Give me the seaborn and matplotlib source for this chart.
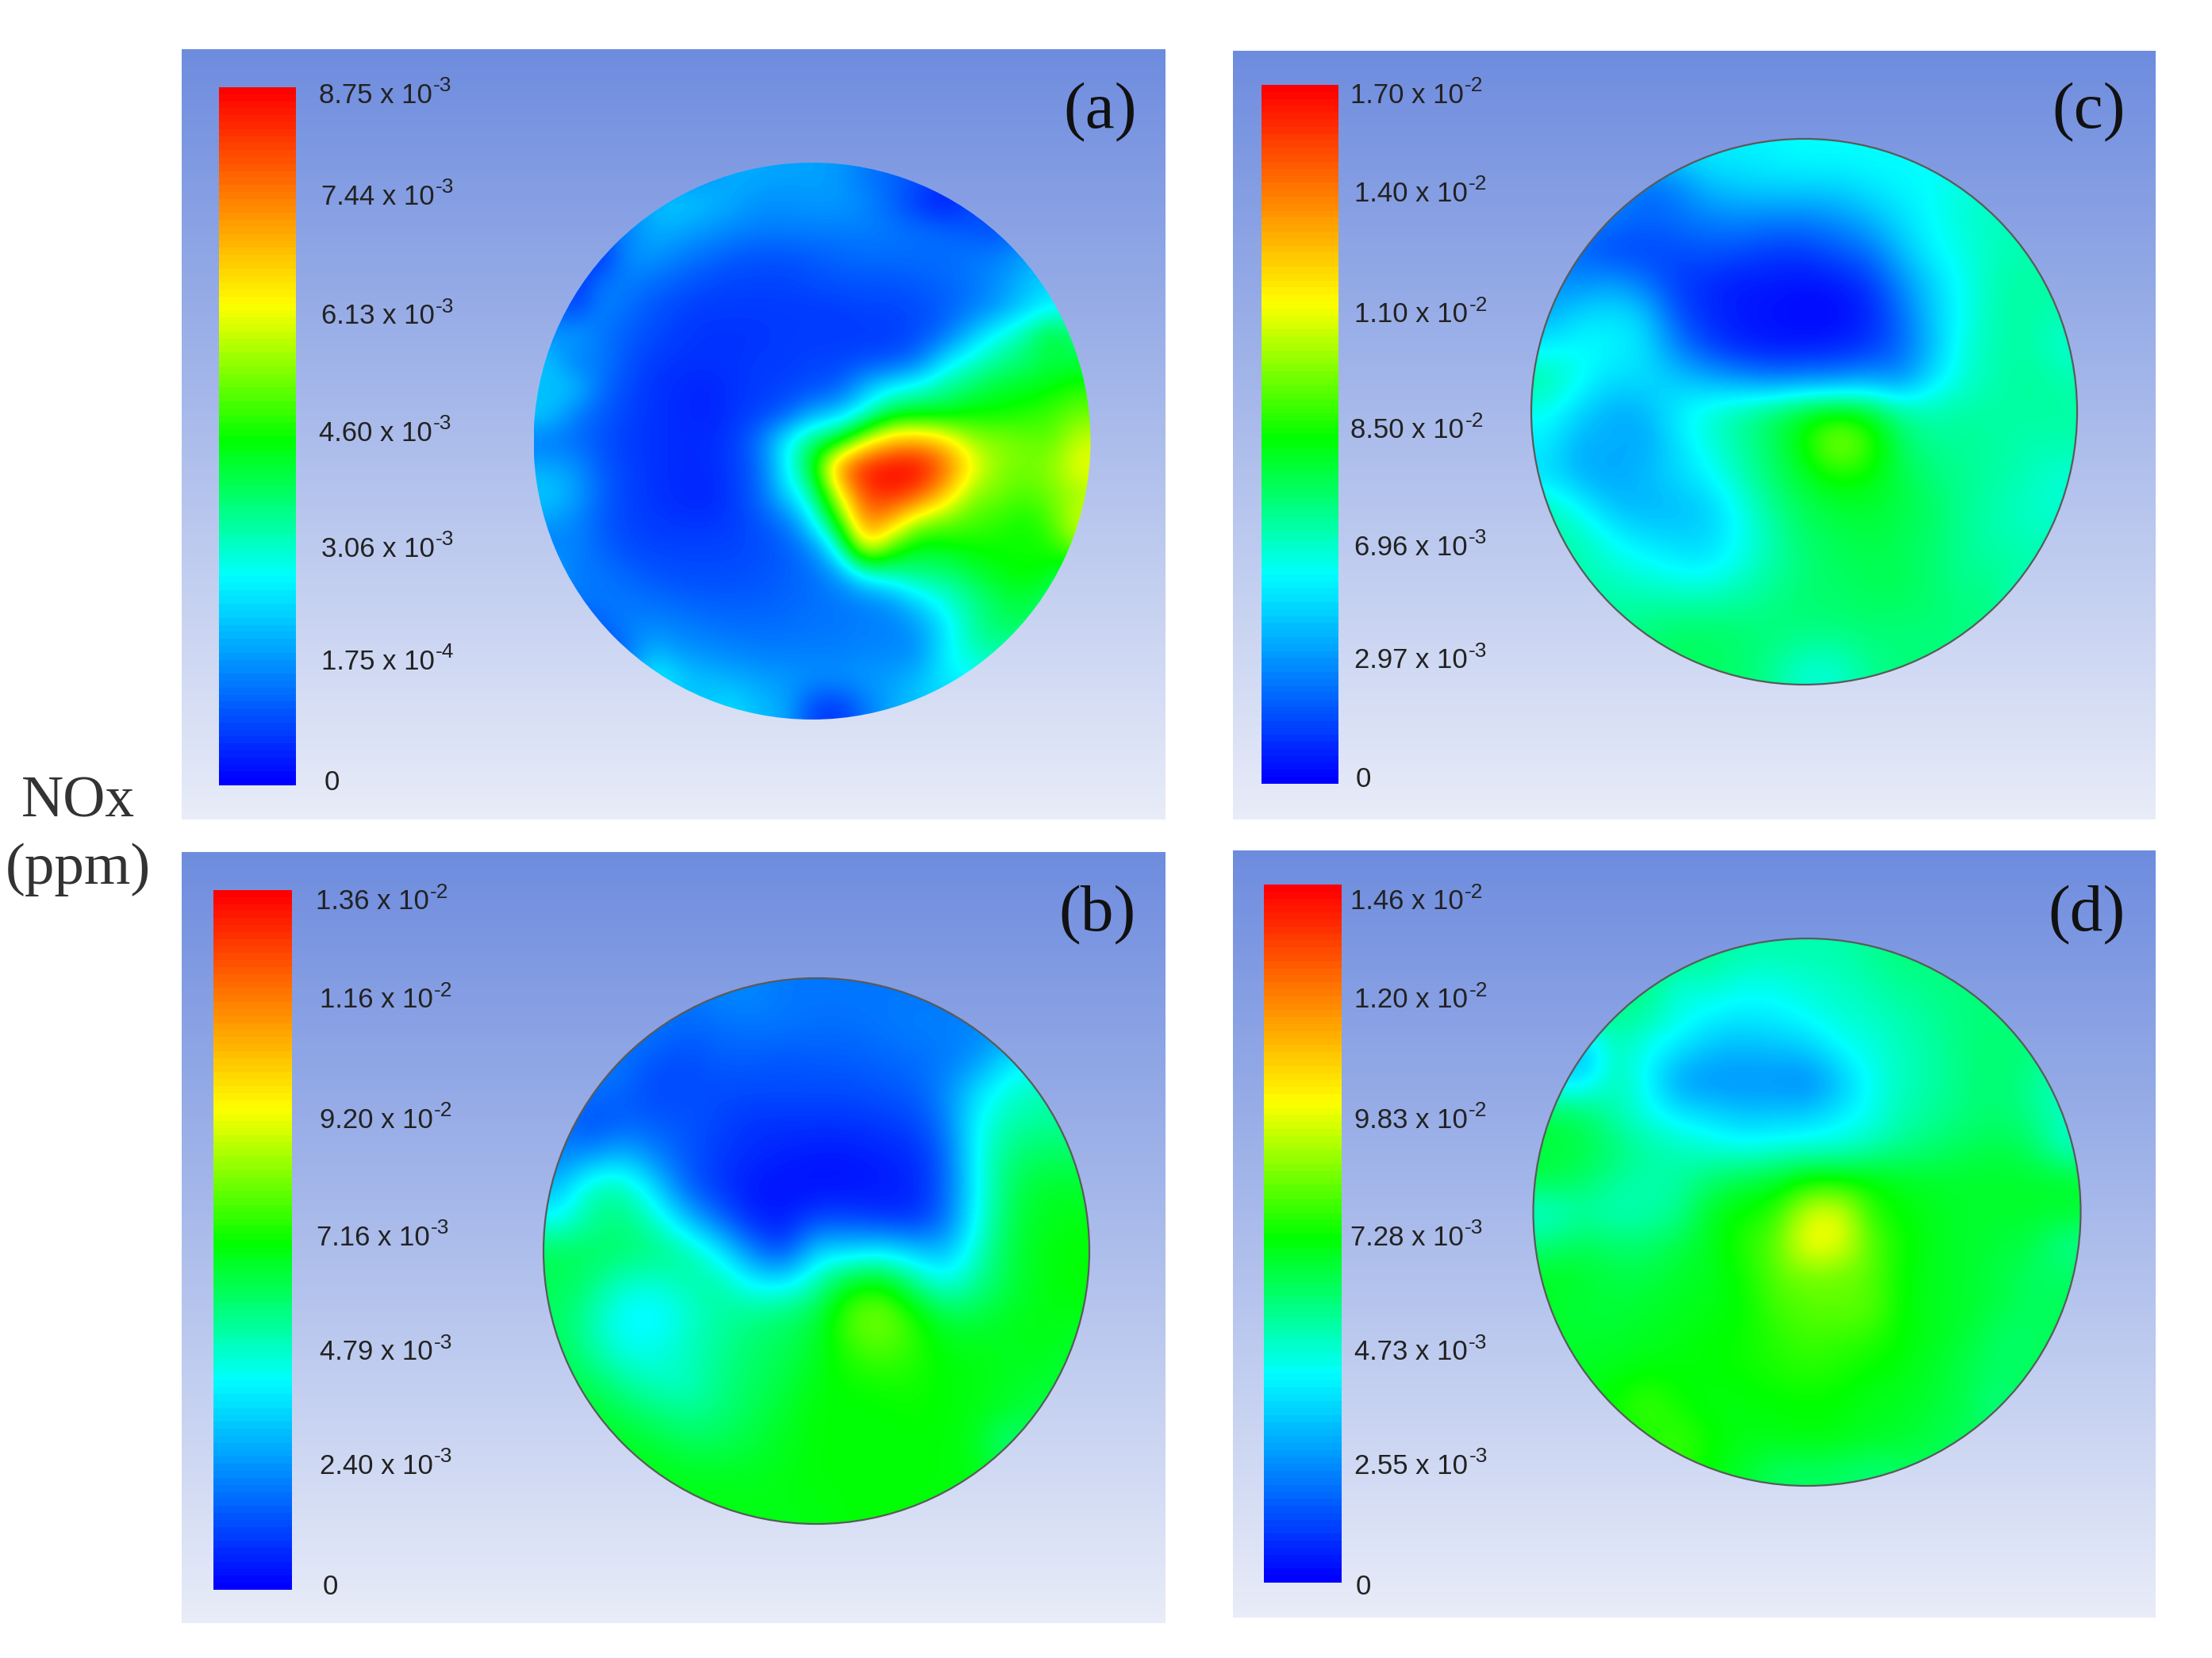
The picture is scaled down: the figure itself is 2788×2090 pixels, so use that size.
from matplotlib import pyplot as plt
from matplotlib.colors import LinearSegmentedColormap
from matplotlib.patches import Circle
import numpy as np
import seaborn as sns

field_a = [
    [15, 15, 15, 15, 15, 15, 18, 20, 20, 19, 19, 18, 14, 12, 10, 8, 10, 12, 14, 15, 15],
    [15, 15, 15, 15, 22, 24, 22, 20, 17, 17, 18, 18, 16, 12, 6, 2, 8, 12, 14, 15, 15],
    [15, 15, 12, 15, 21, 20, 18, 16, 15, 15, 15, 15, 15, 14, 13, 12, 10, 8, 14, 15, 15],
    [15, 8, 4, 17, 18, 15, 13, 11, 10, 10, 11, 12, 13, 13, 13, 13, 14, 15, 18, 22, 20],
    [15, 4, 14, 15, 13, 11, 9, 8, 8, 8, 9, 10, 10, 10, 11, 12, 14, 17, 22, 25, 25],
    [13, 7, 16, 13, 10, 8, 7, 7, 7, 7, 7, 7, 8, 8, 9, 11, 14, 18, 24, 29, 30],
    [16, 20, 14, 11, 9, 7, 6, 6, 6, 7, 7, 7, 7, 7, 9, 13, 23, 31, 37, 47, 40],
    [24, 14, 15, 10, 7, 6, 6, 6, 7, 7, 8, 8, 9, 10, 14, 27, 33, 38, 41, 44, 44],
    [22, 24, 13, 9, 6, 5, 4, 6, 7, 8, 9, 11, 22, 29, 33, 38, 42, 46, 47, 49, 52],
    [24, 15, 11, 8, 6, 5, 4, 6, 8, 11, 20, 24, 33, 46, 47, 47, 50, 50, 52, 54, 58],
    [14, 13, 10, 7, 6, 5, 5, 7, 14, 29, 42, 47, 66, 78, 80, 74, 62, 60, 58, 56, 65],
    [20, 18, 11, 8, 6, 5, 5, 7, 12, 29, 46, 85, 98, 100, 100, 88, 70, 60, 58, 60, 68],
    [24, 20, 12, 8, 6, 5, 4, 7, 12, 25, 36, 68, 92, 96, 90, 76, 60, 58, 55, 58, 62],
    [19, 16, 11, 8, 7, 6, 6, 7, 10, 14, 28, 52, 86, 78, 62, 58, 55, 53, 50, 55, 66],
    [14, 16, 12, 9, 8, 8, 8, 8, 9, 11, 16, 33, 72, 55, 46, 48, 50, 50, 50, 51, 60],
    [22, 14, 14, 12, 10, 9, 9, 9, 10, 11, 13, 18, 32, 36, 40, 40, 44, 48, 50, 48, 40],
    [15, 15, 14, 14, 13, 12, 11, 11, 11, 12, 13, 14, 15, 18, 26, 32, 38, 43, 45, 42, 30],
    [15, 6, 12, 15, 16, 15, 14, 13, 13, 13, 14, 14, 15, 15, 18, 27, 37, 41, 44, 35, 20],
    [15, 15, 4, 14, 22, 18, 17, 16, 15, 15, 15, 15, 16, 16, 17, 28, 34, 38, 30, 20, 15],
    [15, 15, 15, 15, 32, 25, 22, 21, 19, 18, 17, 17, 18, 19, 22, 28, 30, 28, 20, 15, 15],
    [15, 15, 15, 15, 15, 22, 24, 26, 22, 20, 8, 6, 14, 20, 24, 25, 20, 15, 15, 15, 15],
]
field_b = [
    [14, 14, 14, 14, 14, 16, 16, 14, 14, 14, 14, 14, 14, 14, 14, 14, 14],
    [14, 14, 14, 14, 12, 13, 14, 14, 13, 13, 14, 15, 15, 16, 16, 16, 16],
    [14, 14, 14, 10, 9, 11, 11, 10, 11, 11, 12, 13, 14, 17, 26, 30, 30],
    [14, 14, 12, 8, 9, 9, 9, 9, 9, 9, 10, 11, 16, 26, 33, 35, 35],
    [14, 8, 11, 11, 10, 8, 6, 6, 6, 6, 7, 8, 14, 30, 36, 38, 38],
    [15, 17, 22, 15, 10, 7, 5, 4, 3, 3, 4, 5, 11, 31, 40, 42, 42],
    [22, 36, 36, 25, 11, 6, 3, 2, 2, 2, 3, 4, 11, 30, 42, 46, 46],
    [30, 38, 40, 34, 22, 12, 4, 3, 8, 8, 6, 5, 12, 31, 43, 47, 48],
    [43, 42, 41, 40, 37, 28, 15, 7, 26, 25, 28, 24, 21, 34, 44, 48, 49],
    [43, 40, 34, 33, 36, 37, 29, 28, 36, 48, 50, 40, 31, 38, 44, 48, 49],
    [42, 36, 29, 28, 33, 37, 39, 41, 44, 56, 60, 52, 44, 44, 47, 48, 48],
    [43, 37, 31, 31, 35, 38, 41, 43, 46, 53, 56, 53, 48, 48, 47, 48, 46],
    [44, 42, 37, 34, 34, 39, 42, 44, 48, 50, 51, 51, 49, 48, 47, 46, 45],
    [46, 46, 43, 40, 38, 40, 43, 46, 49, 49, 49, 50, 49, 48, 46, 44, 44],
    [47, 47, 47, 45, 43, 43, 45, 47, 49, 49, 49, 49, 49, 47, 38, 44, 44],
    [47, 47, 48, 48, 47, 47, 47, 48, 49, 49, 49, 49, 49, 48, 46, 44, 44],
    [48, 48, 48, 48, 48, 48, 48, 48, 48, 49, 49, 49, 48, 47, 46, 45, 45],
]
field_c = [
    [25, 25, 25, 25, 25, 28, 28, 29, 30, 30, 30, 30, 30, 30, 30, 30, 30],
    [18, 18, 18, 12, 15, 22, 24, 25, 25, 25, 27, 29, 30, 33, 33, 33, 33],
    [15, 15, 14, 12, 13, 15, 16, 15, 15, 17, 21, 26, 30, 33, 35, 35, 35],
    [14, 12, 8, 8, 9, 10, 9, 7, 7, 10, 13, 22, 29, 32, 35, 36, 36],
    [18, 16, 19, 14, 7, 5, 3, 3, 2, 3, 6, 16, 25, 31, 36, 37, 37],
    [20, 26, 27, 25, 10, 5, 3, 2, 1, 1, 4, 12, 24, 31, 36, 37, 35],
    [29, 30, 29, 27, 16, 8, 4, 3, 3, 4, 6, 12, 22, 33, 36, 37, 33],
    [37, 31, 26, 26, 24, 21, 18, 15, 16, 16, 19, 16, 27, 33, 36, 38, 36],
    [31, 25, 20, 21, 28, 33, 37, 42, 47, 50, 47, 38, 36, 37, 37, 37, 37],
    [28, 20, 21, 19, 26, 32, 37, 42, 50, 62, 55, 42, 38, 38, 37, 36, 36],
    [26, 21, 19, 22, 25, 29, 35, 41, 46, 51, 49, 44, 40, 38, 37, 35, 33],
    [36, 30, 23, 21, 22, 24, 31, 38, 43, 45, 46, 44, 42, 38, 36, 34, 33],
    [36, 36, 30, 27, 25, 25, 30, 36, 41, 43, 44, 43, 41, 38, 36, 35, 35],
    [36, 36, 34, 32, 30, 29, 33, 37, 40, 42, 43, 43, 41, 38, 38, 37, 35],
    [36, 36, 37, 37, 37, 37, 38, 39, 41, 41, 42, 42, 41, 39, 40, 28, 35],
    [36, 37, 38, 40, 42, 42, 41, 40, 39, 39, 40, 40, 40, 40, 38, 36, 36],
    [37, 38, 40, 42, 42, 42, 41, 38, 33, 33, 38, 40, 40, 38, 38, 37, 37],
]
field_d = [
    [40, 40, 40, 40, 40, 38, 36, 36, 36, 36, 38, 40, 40, 40, 40, 40, 40],
    [40, 40, 40, 40, 32, 34, 31, 31, 33, 34, 36, 38, 39, 40, 40, 40, 40],
    [40, 40, 38, 36, 32, 28, 27, 28, 30, 33, 34, 36, 38, 40, 40, 40, 40],
    [25, 18, 36, 30, 26, 22, 21, 22, 23, 29, 32, 35, 37, 40, 41, 40, 38],
    [28, 27, 36, 30, 18, 17, 17, 17, 15, 22, 31, 35, 37, 40, 41, 38, 34],
    [44, 43, 36, 32, 28, 26, 23, 24, 24, 28, 31, 36, 38, 40, 41, 39, 34],
    [45, 44, 41, 37, 35, 33, 31, 32, 33, 33, 36, 39, 41, 43, 44, 42, 34],
    [44, 42, 38, 36, 37, 41, 44, 46, 50, 50, 49, 47, 46, 46, 46, 46, 46],
    [33, 37, 35, 36, 38, 47, 50, 52, 66, 68, 52, 49, 47, 46, 46, 46, 46],
    [40, 43, 41, 41, 44, 47, 52, 56, 70, 68, 56, 50, 47, 46, 45, 44, 38],
    [47, 46, 44, 44, 46, 47, 50, 56, 58, 57, 56, 49, 47, 46, 44, 42, 42],
    [46, 45, 45, 46, 47, 48, 49, 54, 56, 57, 56, 49, 47, 46, 44, 42, 43],
    [46, 46, 46, 47, 48, 49, 50, 52, 54, 53, 52, 49, 47, 45, 41, 42, 43],
    [46, 47, 48, 49, 49, 49, 50, 51, 52, 51, 49, 48, 46, 43, 42, 42, 44],
    [47, 47, 50, 55, 50, 48, 48, 49, 49, 49, 47, 47, 45, 44, 38, 44, 44],
    [47, 48, 49, 51, 54, 50, 48, 48, 49, 48, 47, 46, 44, 42, 42, 44, 44],
    [47, 47, 48, 50, 54, 48, 46, 42, 42, 42, 40, 42, 42, 43, 44, 44, 44],
]

labels_a = ['8.75 x 10', '7.44 x 10', '6.13 x 10', '4.60 x 10', '3.06 x 10', '1.75 x 10', '0']
exps_a = ['-3', '-3', '-3', '-3', '-3', '-4', '']
labels_b = ['1.36 x 10', '1.16 x 10', '9.20 x 10', '7.16 x 10', '4.79 x 10', '2.40 x 10', '0']
exps_b = ['-2', '-2', '-2', '-3', '-3', '-3', '']
labels_c = ['1.70 x 10', '1.40 x 10', '1.10 x 10', '8.50 x 10', '6.96 x 10', '2.97 x 10', '0']
exps_c = ['-2', '-2', '-2', '-2', '-3', '-3', '']
labels_d = ['1.46 x 10', '1.20 x 10', '9.83 x 10', '7.28 x 10', '4.73 x 10', '2.55 x 10', '0']
exps_d = ['-2', '-2', '-2', '-3', '-3', '-3', '']

W, H = 2788, 2090

# everything below is in pixels of the final image
panels = [
    dict(name='(a)', field=field_a, labels=labels_a, exps=exps_a, box=(229, 62, 1469, 1033),
         bar=(276, 110, 373, 990), circle=(1023.5, 556, 351), outline=False, letter=(1387, 142),
         label_x=[402, 405, 405, 402, 405, 405, 409],
         label_y=[120, 248, 399, 546, 692, 834, 986]),
    dict(name='(b)', field=field_b, labels=labels_b, exps=exps_b, box=(229, 1074, 1469, 2046),
         bar=(269, 1122, 368, 2004), circle=(1029, 1577, 344), outline=True, letter=(1383, 1154),
         label_x=[398, 403, 403, 399, 403, 403, 407],
         label_y=[1137, 1261, 1412, 1560, 1705, 1848, 2000]),
    dict(name='(c)', field=field_c, labels=labels_c, exps=exps_c, box=(1554, 64, 2717, 1033),
         bar=(1590, 107, 1687, 988), circle=(2274, 519, 344), outline=True, letter=(2633, 142),
         label_x=[1702, 1707, 1707, 1702, 1707, 1707, 1709],
         label_y=[120, 244, 397, 543, 690, 833, 983]),
    dict(name='(d)', field=field_d, labels=labels_d, exps=exps_d, box=(1554, 1072, 2717, 2039),
         bar=(1593, 1115, 1691, 1995), circle=(2277.5, 1528, 345), outline=True, letter=(2630, 1154),
         label_x=[1702, 1707, 1707, 1702, 1707, 1707, 1709],
         label_y=[1137, 1261, 1412, 1560, 1705, 1848, 2000]),
]

sns.set_theme(style='white')
plt.rcParams['font.family'] = ['Liberation Sans', 'DejaVu Sans']

# rainbow scale of the solver, the stops are measured on the colour bars
scale = LinearSegmentedColormap.from_list('fluent', [
    (0.0, '#0000ff'), (0.297, '#00ffff'), (0.494, '#00ff00'), (0.69, '#ffff00'), (1.0, '#ff0000')])
backdrop = LinearSegmentedColormap.from_list('backdrop', ['#6e8cde', '#e8ecf8'])


def add_axes(box):
    x0, y0, x1, y1 = box
    return fig.add_axes([x0 / W, 1 - y1 / H, (x1 - x0) / W, (y1 - y0) / H])


fig = plt.figure(figsize=(W / 100, H / 100), dpi=100, facecolor='white')

for p in panels:
    # gradient behind each contour plot
    ax = add_axes(p['box'])
    sns.heatmap(np.linspace(0, 1, 256).reshape(-1, 1), ax=ax, cmap=backdrop, cbar=False,
                xticklabels=False, yticklabels=False, rasterized=True)

    # colour bar
    ax = add_axes(p['bar'])
    sns.heatmap(np.linspace(1, 0, 100).reshape(-1, 1), ax=ax, cmap=scale, vmin=0, vmax=1, cbar=False,
                xticklabels=False, yticklabels=False, rasterized=True)

    # the contour disc
    cx, cy, r = p['circle']
    ax = add_axes((cx - r - 4, cy - r - 4, cx + r + 4, cy + r + 4))
    ax.set_xlim(-r - 4, r + 4)
    ax.set_ylim(-r - 4, r + 4)
    ax.axis('off')
    im = ax.imshow(np.array(p['field']) / 100, cmap=scale, vmin=0, vmax=1, interpolation='bicubic',
                   extent=(-r, r, -r, r), aspect='equal')
    im.set_clip_path(Circle((0, 0), r, transform=ax.transData))
    if p['outline']:
        ax.add_patch(Circle((0, 0), r, fill=False, edgecolor='#5a5a5a', linewidth=1.6))

# one sheet over everything for the text
top = fig.add_axes([0, 0, 1, 1], facecolor='none')
top.set_xlim(0, W)
top.set_ylim(H, 0)
top.axis('off')

for p in panels:
    for x, y, label, exp in zip(p['label_x'], p['label_y'], p['labels'], p['exps']):
        t = top.text(x, y, label, fontsize=25, color='#222222', va='center', ha='left')
        if exp:
            top.annotate(exp, xy=(1, 1), xycoords=t, xytext=(1, -3), textcoords='offset points',
                         fontsize=19, color='#222222', va='center', ha='left')
    top.text(p['letter'][0], p['letter'][1], p['name'], fontsize=60, family=['Liberation Serif'],
             color='#111111', ha='center', va='center')

top.text(98, 1012, 'NOx', fontsize=53, family=['Liberation Serif'], color='#333333', ha='center', va='center')
top.text(98, 1096, '(ppm)', fontsize=54, family=['Liberation Serif'], color='#333333', ha='center', va='center')

plt.savefig('out.png', dpi=100, facecolor='white')
